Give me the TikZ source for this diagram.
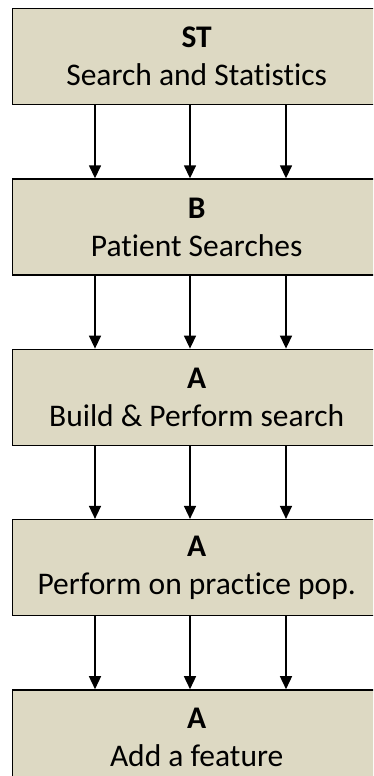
\documentclass[tikz,border=0pt]{standalone}
\usepackage{fontspec}
\setmainfont{Carlito}[Ligatures=NoCommon]
\usepackage{xcolor}
\usepackage{tikz}
\usetikzlibrary{arrows.meta}
\usetikzlibrary{positioning}
\usetikzlibrary{calc}

\definecolor{tanfill}{HTML}{DDD9C3}

\tikzset{
    taskbox/.style={draw=black, line width=1.3pt, fill=tanfill, rectangle,
        minimum width=368pt, minimum height=96pt, inner sep=0pt,
        align=center, font=\fontsize{31.5}{38}\selectfont,
        execute at begin node=\rule{0pt}{36pt}},
    flow/.style={line width=1.5pt, -{Triangle[width=12pt,length=13pt]}}
}

\begin{document}
\begin{tikzpicture}[x=1pt, y=1pt, node distance=73pt]
    \useasboundingbox (0,0) rectangle (373,-776);
    \clip (0,0) rectangle (373,-776);

    \node[taskbox, anchor=north west] (st) at (12,-8) {\textbf{ST}\\Search and Statistics};
    \node[taskbox, below=of st] (b) {\textbf{B}\\Patient Searches};
    \node[taskbox, below=of b] (abuild) {\textbf{A}\\Build \& Perform search};
    \node[taskbox, below=of abuild] (apop) {\textbf{A}\\Perform on practice pop.};
    \node[taskbox, below=of apop] (afeat) {\textbf{A}\\Add a feature};

    \foreach \from/\to in {st/b, b/abuild, abuild/apop, apop/afeat} {
        \foreach \dx in {83, 178, 274} {
            \draw[flow] ([xshift=\dx pt]\from.south west) -- ([xshift=\dx pt]\to.north west);
        }
    }
\end{tikzpicture}
\end{document}
